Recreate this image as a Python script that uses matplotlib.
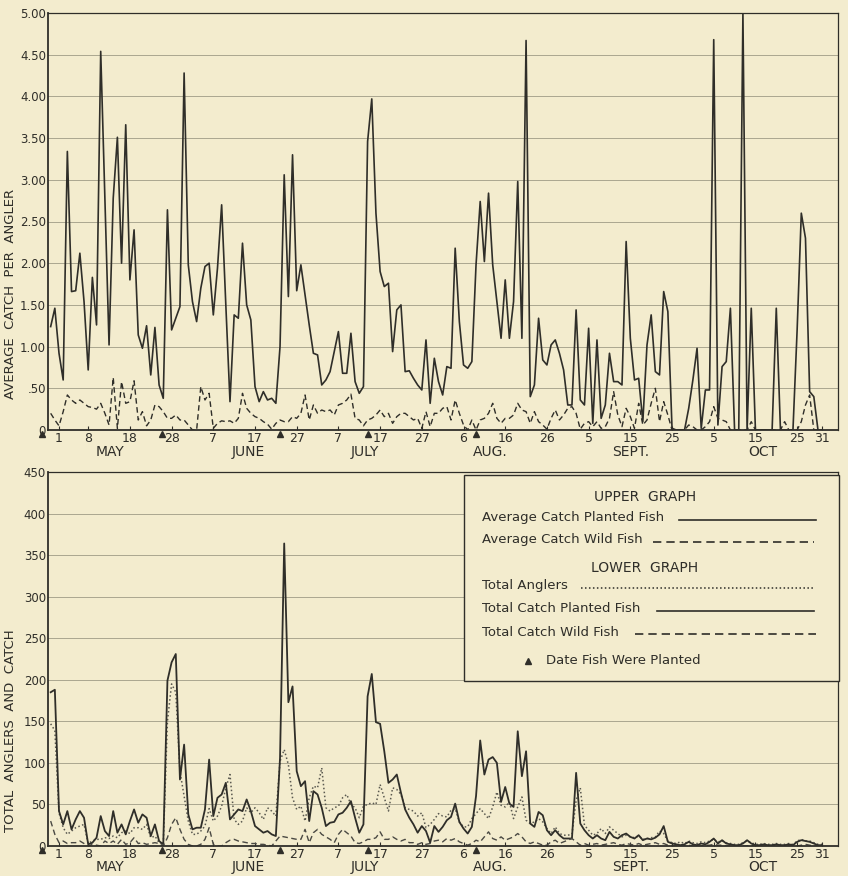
import numpy as np
import matplotlib
matplotlib.use('Agg')
import matplotlib.pyplot as plt
from matplotlib import transforms
from matplotlib.lines import Line2D
from matplotlib.patches import Rectangle

# ---------------- data (days after May 1; May 1 = 0, Apr 29 .. Oct 31) ----------------
day = np.arange(-2, 184)

avg_planted = [
    1.24, 1.46, 0.92, 0.60, 3.34, 1.66, 1.67, 2.12, 1.54, 0.72,
    1.83, 1.26, 4.54, 2.80, 1.02, 2.78, 3.51, 2.00, 3.66, 1.80,
    2.40, 1.14, 0.98, 1.25, 0.66, 1.23, 0.54, 0.38, 2.64, 1.20,
    1.34, 1.48, 4.28, 1.98, 1.54, 1.30, 1.70, 1.96, 2.00, 1.38,
    1.94, 2.70, 1.50, 0.34, 1.38, 1.34, 2.24, 1.50, 1.32, 0.52,
    0.34, 0.46, 0.36, 0.38, 0.32, 1.00, 3.06, 1.60, 3.30, 1.67,
    1.98, 1.62, 1.26, 0.92, 0.90, 0.54, 0.60, 0.70, 0.94, 1.18,
    0.68, 0.68, 1.16, 0.58, 0.44, 0.52, 3.46, 3.97, 2.60, 1.90,
    1.72, 1.76, 0.94, 1.44, 1.50, 0.70, 0.71, 0.62, 0.54, 0.48,
    1.08, 0.32, 0.86, 0.58, 0.42, 0.76, 0.74, 2.18, 1.30, 0.78,
    0.74, 0.82, 1.98, 2.74, 2.02, 2.84, 1.98, 1.54, 1.10, 1.80,
    1.10, 1.54, 2.98, 1.10, 4.67, 0.40, 0.54, 1.34, 0.84, 0.78,
    1.02, 1.08, 0.92, 0.72, 0.30, 0.30, 1.44, 0.36, 0.30, 1.22,
    0.08, 1.08, 0.14, 0.30, 0.92, 0.58, 0.58, 0.54, 2.26, 1.10,
    0.60, 0.62, 0.10, 1.02, 1.38, 0.70, 0.66, 1.66, 1.42, 0.02,
    0.00, 0.00, 0.00, 0.26, 0.60, 0.98, 0.02, 0.48, 0.48, 4.68,
    0.06, 0.76, 0.82, 1.46, 0.00, 0.00, 5.00, 0.00, 1.46, 0.00,
    0.00, 0.00, 0.00, 0.00, 1.46, 0.00, 0.00, 0.00, 0.00, 1.20,
    2.60, 2.30, 0.46, 0.40, 0.00, 0.00]

avg_wild = [
    0.20, 0.12, 0.05, 0.22, 0.42, 0.36, 0.32, 0.36, 0.32, 0.28,
    0.27, 0.25, 0.32, 0.20, 0.06, 0.63, 0.02, 0.58, 0.32, 0.34,
    0.59, 0.12, 0.22, 0.05, 0.12, 0.30, 0.28, 0.22, 0.14, 0.14,
    0.18, 0.12, 0.12, 0.06, 0.00, 0.00, 0.52, 0.36, 0.44, 0.02,
    0.08, 0.11, 0.10, 0.11, 0.08, 0.14, 0.44, 0.26, 0.20, 0.16,
    0.14, 0.10, 0.07, 0.01, 0.08, 0.12, 0.10, 0.10, 0.16, 0.14,
    0.20, 0.42, 0.12, 0.30, 0.20, 0.24, 0.22, 0.24, 0.18, 0.30,
    0.32, 0.36, 0.43, 0.14, 0.12, 0.05, 0.12, 0.14, 0.18, 0.24,
    0.16, 0.20, 0.08, 0.16, 0.20, 0.20, 0.16, 0.12, 0.14, 0.02,
    0.22, 0.04, 0.20, 0.20, 0.26, 0.28, 0.12, 0.36, 0.20, 0.06,
    0.00, 0.12, 0.00, 0.12, 0.14, 0.20, 0.32, 0.14, 0.08, 0.14,
    0.14, 0.18, 0.32, 0.24, 0.22, 0.08, 0.22, 0.10, 0.06, 0.01,
    0.14, 0.24, 0.12, 0.18, 0.26, 0.28, 0.20, 0.01, 0.08, 0.10,
    0.04, 0.10, 0.02, 0.04, 0.14, 0.46, 0.18, 0.04, 0.26, 0.16,
    0.02, 0.32, 0.06, 0.12, 0.32, 0.50, 0.10, 0.34, 0.18, 0.00,
    0.00, 0.00, 0.00, 0.06, 0.04, 0.00, 0.00, 0.04, 0.10, 0.28,
    0.14, 0.12, 0.10, 0.00, 0.00, 0.00, 0.00, 0.00, 0.10, 0.00,
    0.00, 0.00, 0.00, 0.00, 0.00, 0.00, 0.10, 0.00, 0.00, 0.00,
    0.10, 0.30, 0.42, 0.00, 0.00, 0.00]

tot_planted = [
    185, 188, 42, 26, 42, 20, 32, 42, 34, 2,
    4, 10, 36, 18, 12, 42, 16, 26, 14, 30,
    44, 28, 38, 34, 12, 26, 6, 2, 199, 221,
    231, 80, 122, 38, 20, 22, 22, 44, 104, 36,
    58, 62, 76, 32, 38, 44, 42, 56, 42, 24,
    20, 16, 18, 14, 12, 106, 364, 173, 192, 90,
    72, 78, 30, 66, 62, 46, 24, 28, 29, 38,
    40, 46, 54, 34, 16, 26, 180, 207, 149, 147,
    114, 76, 80, 86, 64, 44, 34, 26, 16, 24,
    18, 4, 24, 17, 23, 31, 35, 51, 29, 21,
    15, 23, 60, 127, 86, 104, 107, 100, 53, 71,
    51, 47, 138, 84, 114, 27, 23, 41, 37, 19,
    13, 19, 13, 9, 9, 9, 88, 27, 19, 13,
    9, 13, 9, 7, 17, 11, 9, 13, 15, 11,
    9, 13, 7, 9, 8, 10, 14, 24, 5, 3,
    2, 1, 2, 5, 2, 1, 3, 2, 5, 9,
    3, 7, 3, 2, 1, 1, 3, 7, 3, 1,
    1, 2, 1, 1, 2, 1, 1, 2, 1, 5,
    7, 6, 5, 3, 1, 1]

tot_anglers = [
    147, 139, 40, 22, 14, 18, 22, 24, 26, 3,
    6, 8, 8, 10, 9, 12, 10, 16, 18, 15,
    22, 22, 20, 26, 10, 12, 4, 2, 150, 195,
    185, 90, 60, 30, 14, 14, 18, 24, 45, 30,
    36, 48, 70, 86, 32, 26, 30, 46, 40, 46,
    40, 32, 46, 42, 36, 102, 116, 98, 58, 44,
    48, 30, 58, 72, 70, 94, 46, 42, 46, 48,
    58, 62, 50, 46, 34, 48, 50, 52, 50, 74,
    58, 42, 70, 68, 62, 46, 44, 42, 36, 40,
    22, 26, 32, 39, 36, 35, 43, 45, 29, 23,
    23, 33, 39, 45, 39, 33, 47, 65, 49, 47,
    53, 33, 47, 59, 31, 27, 29, 33, 29, 21,
    15, 23, 15, 13, 13, 14, 55, 70, 25, 19,
    13, 15, 21, 15, 23, 19, 15, 11, 13, 11,
    10, 12, 8, 9, 10, 11, 18, 15, 6, 4,
    3, 5, 3, 6, 4, 3, 5, 4, 6, 8,
    5, 6, 4, 3, 2, 2, 4, 6, 4, 2,
    2, 3, 2, 2, 3, 2, 2, 3, 2, 6,
    8, 6, 6, 4, 2, 2]

tot_wild = [
    30, 14, 4, 6, 3, 4, 4, 6, 3, 0,
    2, 1, 0, 6, 3, 6, 2, 8, 2, 4,
    10, 3, 4, 2, 3, 4, 3, 0, 10, 26,
    34, 20, 8, 2, 0, 0, 2, 8, 22, 2,
    0, 0, 4, 7, 8, 6, 5, 4, 3, 3,
    2, 2, 1, 0, 6, 12, 11, 10, 9, 8,
    8, 20, 4, 16, 20, 14, 11, 8, 4, 14,
    20, 16, 12, 4, 3, 5, 8, 8, 10, 17,
    8, 8, 11, 8, 6, 8, 4, 4, 2, 4,
    2, 3, 6, 7, 5, 9, 7, 9, 5, 3,
    1, 3, 7, 5, 11, 17, 9, 7, 11, 7,
    9, 11, 15, 11, 5, 3, 5, 3, 1, 1,
    5, 7, 3, 5, 7, 9, 5, 1, 3, 1,
    2, 3, 1, 2, 3, 4, 2, 1, 3, 2,
    1, 3, 1, 2, 3, 4, 2, 3, 1, 0,
    0, 0, 0, 1, 0, 0, 0, 1, 1, 2,
    1, 1, 0, 0, 0, 0, 0, 0, 1, 0,
    0, 0, 0, 0, 0, 0, 1, 0, 0, 0,
    1, 2, 1, 0, 0, 0]

plant_days = [-4, 24.6, 53, 74, 100]

tick_days = [0, 7, 17, 27, 37, 47, 57, 67, 77, 87, 97, 107, 117, 127, 137, 147, 157, 167, 177, 183]
tick_labels = ['1', '8', '18', '28', '7', '17', '27', '7', '17', '27',
               '6', '16', '26', '5', '15', '25', '5', '15', '25', '31']
grid_days = [7, 17, 27, 37, 47, 57, 67, 77, 87, 97, 107, 117, 127, 137, 147, 157, 167, 177]
months = ['MAY', 'JUNE', 'JULY', 'AUG.', 'SEPT.', 'OCT']
month_pos = [12.2, 45.3, 73.4, 103.4, 137, 168.8]

upper_yticks = [0, 0.5, 1.0, 1.5, 2.0, 2.5, 3.0, 3.5, 4.0, 4.5, 5.0]
upper_ylabels = ['0', '.50', '1.00', '1.50', '2.00', '2.50', '3.00', '3.50', '4.00', '4.50', '5.00']
lower_yticks = [0, 50, 100, 150, 200, 250, 300, 350, 400, 450]

# ---------------- style ----------------
BG = '#f3ecce'
INK = '#2f2e29'
GRID = '#aaa690'
plt.rcParams['font.family'] = ['DejaVu Sans']

W, H = 848, 876
fig = plt.figure(figsize=(W / 100, H / 100), dpi=100, facecolor=BG)

def fx(x):
    return x / W

def fy(y):
    return 1 - y / H

ax1 = fig.add_axes([fx(48), fy(430), (838 - 48) / W, (430 - 13) / H])
ax2 = fig.add_axes([fx(48), fy(846), (838 - 48) / W, (846 - 472) / H])

XMIN, XMAX = -2.64, 186.8

def style_axes(ax, yticks, ylabels, ymax, month_off):
    ax.set_facecolor(BG)
    ax.set_xlim(XMIN, XMAX)
    ax.set_ylim(0, ymax)
    ax.set_xticks(tick_days)
    ax.set_xticklabels(tick_labels, fontsize=9, color=INK)
    ax.set_xticks(grid_days, minor=True)
    ax.set_yticks(yticks)
    ax.set_yticklabels(ylabels, fontsize=8.5, color=INK)
    ax.tick_params(axis='x', which='major', direction='in', length=3, pad=1.5, color=INK)
    ax.tick_params(axis='x', which='minor', length=0)
    ax.tick_params(axis='y', direction='in', length=0, pad=1.5)
    ax.grid(True, which='minor', axis='x', color=GRID, lw=0.7)
    ax.grid(True, which='major', axis='y', color=GRID, lw=0.7)
    ax.set_axisbelow(True)
    for s in ax.spines.values():
        s.set_color(INK)
        s.set_linewidth(0.9)
    ax.spines['bottom'].set_linewidth(1.3)
    ax.spines['left'].set_linewidth(1.3)
    trans = transforms.blended_transform_factory(ax.transData, ax.transAxes)
    moff = transforms.ScaledTranslation(0, month_off / 100, fig.dpi_scale_trans)
    for m, p in zip(months, month_pos):
        ax.text(p, 0, m, transform=trans + moff, ha='center', va='top', fontsize=10,
                color=INK)
    return trans

t1 = style_axes(ax1, upper_yticks, upper_ylabels, 5.0, -15)
t2 = style_axes(ax2, lower_yticks, [str(v) for v in lower_yticks], 450, -14)

# upper graph
ax1.plot(day, avg_planted, color=INK, lw=1.2)
ax1.plot(day, avg_wild, color=INK, lw=1.0, dashes=(4, 2.5))
# lower graph
ax2.plot(day, tot_anglers, color='#5a5950', lw=1.1, linestyle=(0, (1, 1.6)))
ax2.plot(day, tot_planted, color=INK, lw=1.3)
ax2.plot(day, tot_wild, color='#4a4943', lw=1.0, dashes=(4, 2.5))

# planting-date triangles
for ax, tr in ((ax1, t1), (ax2, t2)):
    off = transforms.ScaledTranslation(0, -4 / 100, fig.dpi_scale_trans)
    ax.plot(plant_days, [0] * len(plant_days), linestyle='none', marker='^', ms=5,
            color=INK, transform=tr + off, clip_on=False)

# axis titles
fig.text(fx(11), fy(294), 'AVERAGE  CATCH  PER  ANGLER', rotation=90, ha='center', va='center',
         fontsize=9.5, color=INK)
fig.text(fx(11), fy(731), 'TOTAL  ANGLERS  AND  CATCH', rotation=90, ha='center', va='center',
         fontsize=9.5, color=INK)

# legend box
fig.patches.append(Rectangle((fx(464), fy(681)), (839 - 464) / W, (681 - 475) / H,
                             transform=fig.transFigure, facecolor=BG, edgecolor=INK,
                             lw=1.0, zorder=3))
lfs = 9.5
fig.text(fx(645), fy(497), 'UPPER  GRAPH', ha='center', va='center', fontsize=10, color=INK, zorder=5)
fig.text(fx(645), fy(568), 'LOWER  GRAPH', ha='center', va='center', fontsize=10, color=INK, zorder=5)
entries = [
    ('Average Catch Planted Fish', 518, 679, 816, dict(lw=1.2)),
    ('Average Catch Wild Fish', 540, 653, 814, dict(lw=1.2, dashes=(5, 3))),
    ('Total Anglers', 586, 581, 814, dict(lw=1.1, linestyle=(0, (1, 1.6)))),
    ('Total Catch Planted Fish', 609, 657, 814, dict(lw=1.2)),
    ('Total Catch Wild Fish', 632, 635, 816, dict(lw=1.2, dashes=(5, 3))),
]
for label, yy, x0, x1, kw in entries:
    fig.text(fx(482), fy(yy), label, ha='left', va='center', fontsize=lfs, color=INK, zorder=5)
    fig.add_artist(Line2D([fx(x0), fx(x1)], [fy(yy + 2), fy(yy + 2)], transform=fig.transFigure,
                          color=INK, zorder=5, **kw))
fig.add_artist(Line2D([fx(528)], [fy(661)], transform=fig.transFigure, marker='^', ms=5,
                      color=INK, linestyle='none', zorder=5))
fig.text(fx(546), fy(661), 'Date Fish Were Planted', ha='left', va='center', fontsize=lfs,
         color=INK, zorder=5)

fig.savefig('out.png', dpi=100, facecolor=BG)
